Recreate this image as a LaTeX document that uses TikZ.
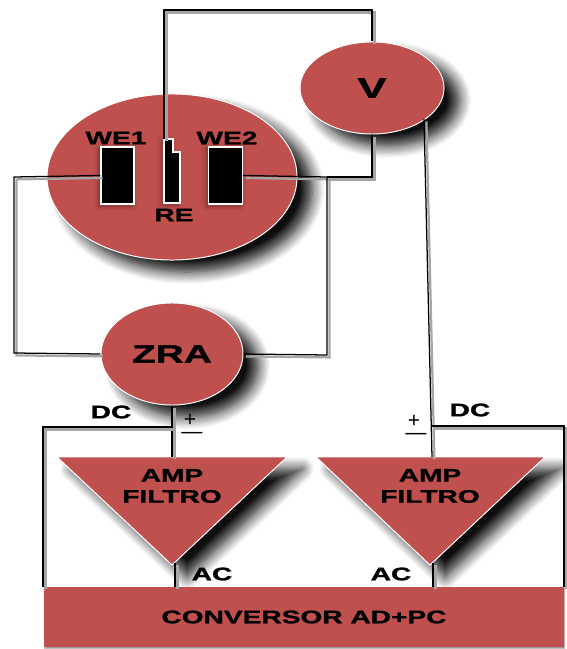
\documentclass[tikz,border=0pt]{standalone}
\usepackage{fontspec}
\setmainfont[FakeStretch=1.55,BoldFeatures={FakeBold=1.5}]{Liberation Sans}
\newfontfamily\signfont{Liberation Sans}
\usepackage{tikz}
\usetikzlibrary{shapes.geometric, shadows.blur}

\definecolor{cellred}{HTML}{C0504D}

\begin{document}
\begin{tikzpicture}[
  x=0.025cm, y=-0.025cm,
  softshadow/.style = {blur shadow={shadow xshift=0.38cm, shadow yshift=-0.3cm, shadow blur radius=0.3cm, shadow blur steps=10, shadow opacity=95}},
  cell/.style = {ellipse, fill=cellred, draw=white, line width=0.7pt, inner sep=0pt, softshadow},
  amp/.style = {fill=cellred, draw=white, line width=0.7pt, softshadow},
  electrode/.style = {fill=black, draw=white, line width=0.9pt, blur shadow={shadow xshift=-0.05cm, shadow yshift=-0.05cm, shadow blur radius=0.12cm, shadow blur steps=5}},
  wire/.style = {black, line width=0.9pt, preaction={draw=gray!70, line width=1.6pt, transform canvas={xshift=0.06cm, yshift=-0.06cm}}},
  tag/.style = {font=\fontsize{12.9}{14}\selectfont\bfseries, inner sep=0pt, text=black},
  sign/.style = {font=\fontsize{15}{16}\signfont, inner sep=0pt}
]
  \useasboundingbox (0,0) rectangle (566,649);

  % Cell with the three electrodes
  \node[cell, minimum width=6.25cm, minimum height=4.15cm] (cell) at (172,177) {};
  \node[electrode, minimum width=0.83cm, minimum height=1.425cm, inner sep=0pt] (we1) at (117.5,175.5) {};
  \node[electrode, minimum width=0.85cm, minimum height=1.425cm, inner sep=0pt] (we2) at (225.5,175.5) {};
  \coordinate (re_top) at (164,139);
  \draw[electrode] (re_top) -- (173,139) -- (173,152) -- (180,152) -- (180,203) -- (164,203) -- cycle;

  % Voltmeter and ZRA
  \node[cell, minimum width=3.6cm, minimum height=2.3cm, font=\fontsize{20}{22}\selectfont\bfseries] (volt) at (372,88) {V};
  \node[cell, minimum width=3.55cm, minimum height=2.55cm, font=\fontsize{17.8}{20}\selectfont\bfseries] (zra) at (172,354) {ZRA};

  % Amplifiers
  \coordinate (amp1_in) at (172,457);
  \coordinate (amp1_out) at (175,563);
  \draw[amp] (57,457) -- (287,457) -- (172,565) -- cycle;
  \coordinate (amp2_in) at (432,457);
  \coordinate (amp2_out) at (433,563);
  \draw[amp] (316,457) -- (545,457) -- (430,565) -- cycle;

  % Converter
  \node[fill=cellred, minimum width=13cm, minimum height=1.5cm, inner sep=0pt, tag,
    blur shadow={shadow xshift=0.02cm, shadow yshift=-0.04cm, shadow blur radius=0.02cm, shadow blur steps=2}] (conv) at (304,617) {CONVERSOR AD+PC};

  % Electrode wiring
  \draw[wire] (we1.west) -- (14,177) -- (14,353) -- (zra.west);
  \draw[wire] (we2.east) -- (327,177) -- (327,355) -- (zra.east);
  \draw[wire] (volt.south) -- (372,177) -- (327,177);
  \draw[wire] (re_top) -- (164,10) -- (372,10) -- (volt.north);

  % Signals into the amplifiers
  \coordinate (volt_out) at (424,119);
  \draw[wire] (volt_out) -- (amp2_in);
  \draw[wire] (zra.south) -- (amp1_in);

  % DC lines
  \draw[wire] (172,427) -- (43,427) -- (43,587);
  \draw[wire] (431,426) -- (564,426) -- (564,587);

  % AC lines
  \draw[wire] (amp1_out) -- (175,587);
  \draw[wire] (amp2_out) -- (433,587);

  % Labels
  \node[tag] (we1lab) at (116,138) {WE1};
  \node[tag] (we2lab) at (227,138) {WE2};
  \node[tag] (relab) at (174,215) {RE};
  \node[tag] (dc1) at (111,412) {DC};
  \node[tag] (dc2) at (470,410) {DC};
  \node[tag] (ac1) at (212,574) {AC};
  \node[tag] (ac2) at (391,574) {AC};
  \node[tag, align=center] (amp1lab) at (172,486) {AMP\\[1pt]FILTRO};
  \node[tag, align=center] (amp2lab) at (430,486) {AMP\\[1pt]FILTRO};
  \node[sign] (plus1) at (190,420) {+};
  \node[sign] (minus1) at (192,435) {—};
  \node[sign] (plus2) at (414,421) {+};
  \node[sign] (minus2) at (416,436) {—};

\end{tikzpicture}
\end{document}
